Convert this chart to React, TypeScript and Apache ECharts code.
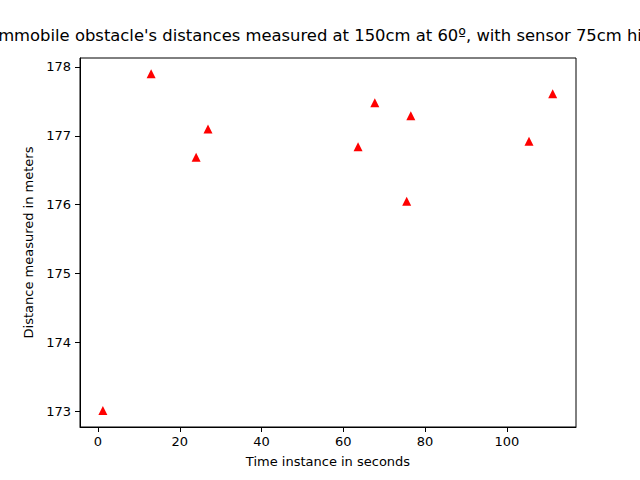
import { useEffect, useRef } from 'react';
import * as echarts from 'echarts';

const times = [1.2, 13, 24, 26.9, 63.6, 67.7, 75.5, 76.5, 105.4, 111.2];
const distances = [173.01, 177.9, 176.69, 177.1, 176.84, 177.48, 176.05, 177.29, 176.92, 177.61];
const xTicks = [0, 20, 40, 60, 80, 100];
const yTicks = [173, 174, 175, 176, 177, 178];
const title = "Immobile obstacle's distances measured at 150cm at 60º, with sensor 75cm high";

const font = 'DejaVu Sans';

export default function App() {
  const chartRef = useRef<HTMLDivElement>(null);

  useEffect(() => {
    document.body.style.margin = '0';
    if (!chartRef.current) return;
    const chart = echarts.init(chartRef.current, null, { renderer: 'svg' });

    const axisCommon = {
      axisLine: { show: true, onZero: false, lineStyle: { color: '#000', width: 1 } },
      axisTick: { show: true, inside: false, length: 5, lineStyle: { color: '#000' } },
      axisLabel: { color: '#000', fontFamily: font, fontSize: 13 },
      splitLine: { show: false },
      nameLocation: 'middle' as const,
      nameTextStyle: { color: '#000', fontFamily: font, fontSize: 13 },
    };

    chart.setOption({
      animation: false,
      backgroundColor: '#fff',
      grid: { left: 80, right: 64, top: 58, bottom: 53, show: true, borderColor: '#000', borderWidth: 1 },
      graphic: [
        {
          type: 'text',
          x: 328,
          y: 43,
          style: { text: title, fontFamily: font, fontSize: 16.4, fill: '#000', textAlign: 'center', textVerticalAlign: 'bottom' },
        },
      ],
      xAxis: {
        ...axisCommon,
        type: 'value',
        min: -4.4,
        max: 116.9,
        name: 'Time instance in seconds',
        nameGap: 28,
        axisTick: { ...axisCommon.axisTick, customValues: xTicks },
        axisLabel: { ...axisCommon.axisLabel, customValues: xTicks, margin: 8 },
      },
      yAxis: {
        ...axisCommon,
        type: 'value',
        min: 172.77,
        max: 178.13,
        name: 'Distance measured in meters',
        nameGap: 44,
        axisTick: { ...axisCommon.axisTick, customValues: yTicks },
        axisLabel: { ...axisCommon.axisLabel, customValues: yTicks, margin: 9 },
      },
      series: [
        {
          type: 'scatter',
          data: times.map((t, i) => [t, distances[i]]),
          symbol: 'triangle',
          symbolSize: 9,
          itemStyle: { color: '#ff0000', opacity: 1 },
        },
      ],
    });

    return () => chart.dispose();
  }, []);

  return <div ref={chartRef} style={{ width: 640, height: 480 }} />;
}
